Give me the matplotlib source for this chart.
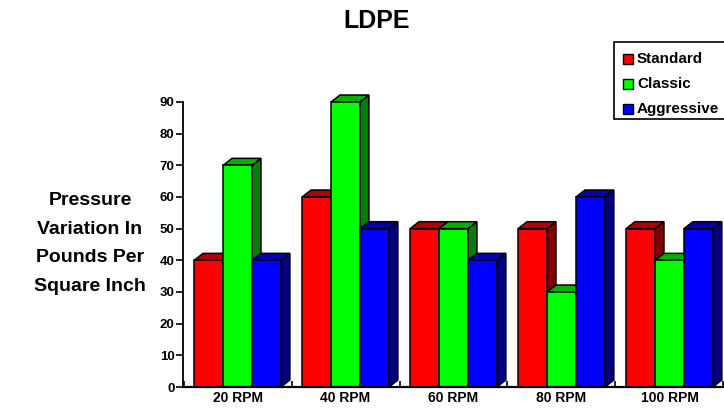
import matplotlib
matplotlib.use("Agg")
import matplotlib.pyplot as plt
from matplotlib.patches import Polygon, Rectangle
import numpy as np

# ── data ──────────────────────────────────────────────────────────────
categories = ["20 RPM", "40 RPM", "60 RPM", "80 RPM", "100 RPM"]
series_names = ["Standard", "Classic", "Aggressive"]
standard = [40, 60, 50, 50, 50]
classic = [70, 90, 50, 30, 40]
aggressive = [40, 50, 40, 60, 50]
yticks = [0, 10, 20, 30, 40, 50, 60, 70, 80, 90]

# front / top / side colours per series
FRONT = ["#ff0000", "#00ff00", "#0000ff"]
TOP = ["#b00000", "#00b000", "#0000b0"]
SIDE = ["#800000", "#008000", "#000080"]

plt.rcParams["font.family"] = ["Liberation Sans", "DejaVu Sans"]
plt.rcParams["font.weight"] = "bold"

fig = plt.figure(figsize=(7.24, 4.08), dpi=100)
ax = fig.add_axes([183 / 724, 21 / 408, 541 / 724, 285 / 408])
ax.set_xlim(-0.505, 4.505)
ax.set_ylim(0, 90)

W = 0.268   # bar width in category units
DX = 0.083  # depth offset in x
DY = 2.2    # depth offset in y
LW = 1.1

values = [standard, classic, aggressive]
for ci in range(len(categories)):
    for si in range(3):
        h = values[si][ci]
        left = ci - 1.5 * W + si * W
        right = left + W
        side = Polygon([(right, 0), (right + DX, DY), (right + DX, h + DY), (right, h)],
                       closed=True, facecolor=SIDE[si], edgecolor="black",
                       linewidth=LW, clip_on=False, zorder=3)
        top = Polygon([(left, h), (left + DX, h + DY), (right + DX, h + DY), (right, h)],
                      closed=True, facecolor=TOP[si], edgecolor="black",
                      linewidth=LW, clip_on=False, zorder=3)
        front = Rectangle((left, 0), W, h, facecolor=FRONT[si], edgecolor="black",
                          linewidth=LW, clip_on=False, zorder=3)
        ax.add_patch(side)
        ax.add_patch(top)
        ax.add_patch(front)

for s in ["top", "right"]:
    ax.spines[s].set_visible(False)
ax.spines["left"].set_linewidth(1.3)
ax.spines["bottom"].set_linewidth(1.6)
ax.spines["bottom"].set_zorder(4)

ax.set_yticks(yticks)
ax.set_yticklabels([str(v) for v in yticks], fontsize=9.5, fontweight="bold")
ax.tick_params(axis="y", direction="out", length=5, width=1.2, pad=1)

ax.set_xticks(range(len(categories)))
ax.set_xticklabels(categories, fontsize=10, fontweight="bold")
ax.tick_params(axis="x", length=0, pad=3)
ax.set_xticks(np.arange(-0.5, len(categories)), minor=True)
ax.tick_params(axis="x", which="minor", direction="in", length=4, width=1.2)

fig.text(377 / 724, 1 - 21 / 408, "LDPE", ha="center", va="center",
         fontsize=18, fontweight="bold")
fig.text(90 / 724, 1 - 243.5 / 408, "Pressure\nVariation In\nPounds Per\nSquare Inch",
         ha="center", va="center", fontsize=14, fontweight="bold", linespacing=1.9)

# legend box drawn by hand
fig.patches.append(Rectangle((614 / 724, 1 - 119 / 408), 120 / 724, 77 / 408,
                             transform=fig.transFigure, facecolor="white",
                             edgecolor="black", linewidth=1.2))
for i, name in enumerate(series_names):
    yc = 59 + i * 25
    fig.patches.append(Rectangle((623 / 724, 1 - (yc + 5) / 408), 10 / 724, 10 / 408,
                                 transform=fig.transFigure, facecolor=FRONT[i],
                                 edgecolor="black", linewidth=1.0))
    fig.text(637 / 724, 1 - yc / 408, name, ha="left", va="center",
             fontsize=11, fontweight="bold")

fig.savefig("out.png", dpi=100)
